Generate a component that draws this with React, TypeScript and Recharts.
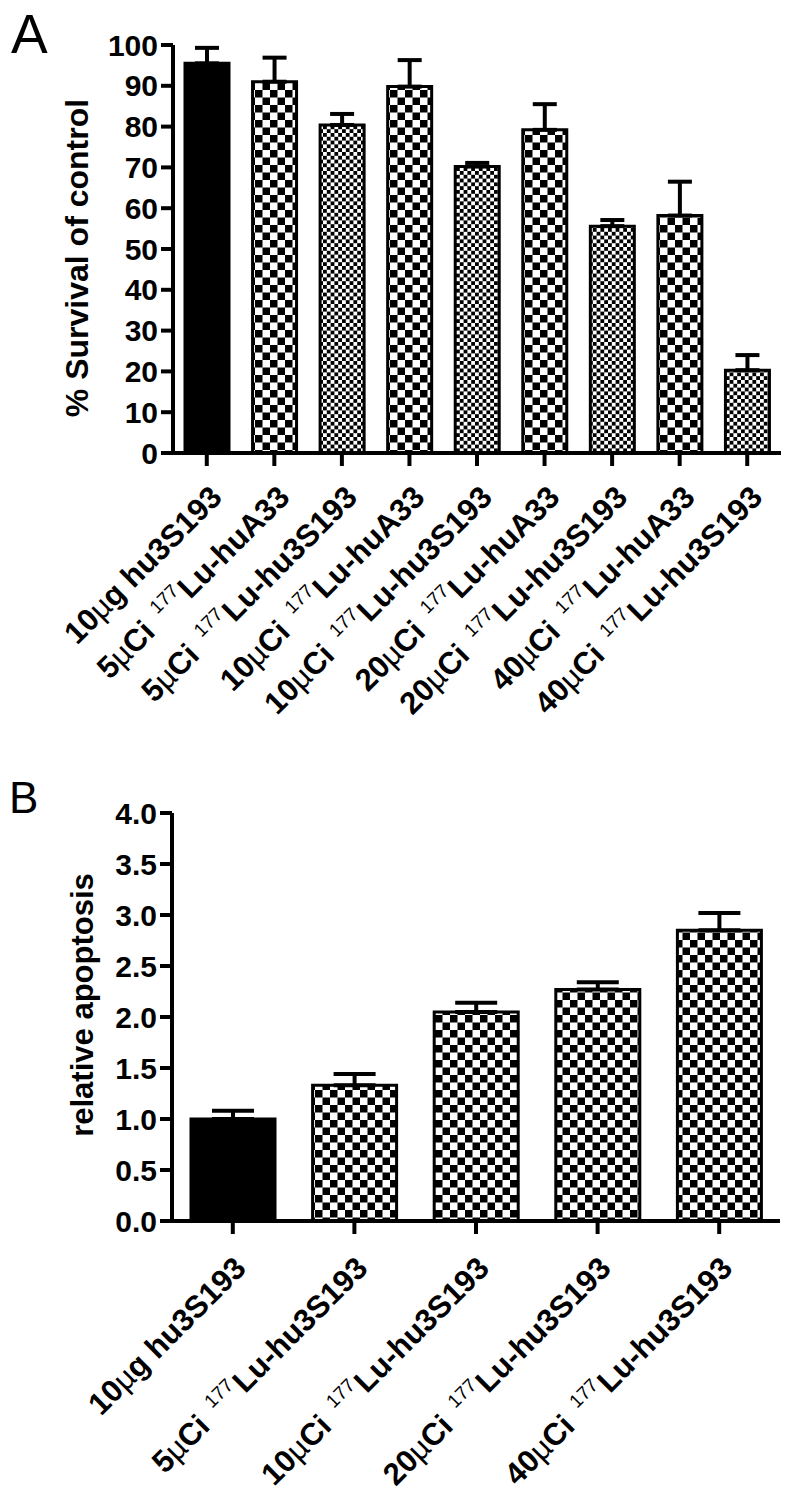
import { BarChart, Bar, XAxis, YAxis, ErrorBar, Cell } from 'recharts';

const FONT = '"Liberation Sans", Arial, sans-serif';

// Panel A: survival (% of control), mean + SEM
const categoriesA = [
  '10µg hu3S193',
  '5µCi 177Lu-huA33',
  '5µCi 177Lu-hu3S193',
  '10µCi 177Lu-huA33',
  '10µCi 177Lu-hu3S193',
  '20µCi 177Lu-huA33',
  '20µCi 177Lu-hu3S193',
  '40µCi 177Lu-huA33',
  '40µCi 177Lu-hu3S193',
];
const survivalMean = [95.5, 91.0, 80.4, 89.8, 70.2, 79.2, 55.6, 58.2, 20.3];
const survivalSem = [3.8, 5.9, 2.7, 6.5, 0.9, 6.3, 1.5, 8.3, 3.7];
const ticksA = [0, 10, 20, 30, 40, 50, 60, 70, 80, 90, 100];

// Panel B: relative apoptosis, mean + SEM
const categoriesB = [
  '10µg hu3S193',
  '5µCi 177Lu-hu3S193',
  '10µCi 177Lu-hu3S193',
  '20µCi 177Lu-hu3S193',
  '40µCi 177Lu-hu3S193',
];
const apoptosisMean = [1.0, 1.33, 2.05, 2.27, 2.85];
const apoptosisSem = [0.08, 0.11, 0.09, 0.07, 0.17];
const ticksB = [0, 0.5, 1, 1.5, 2, 2.5, 3, 3.5, 4];

// fills: solid control, coarse check for huA33, fine check for hu3S193
const fillsA = ['#000', 'url(#chkA-coarse)', 'url(#chkA-fine)', 'url(#chkA-coarse)', 'url(#chkA-fine)',
  'url(#chkA-coarse)', 'url(#chkA-fine)', 'url(#chkA-coarse)', 'url(#chkA-fine)'];
const fillsB = ['#000', 'url(#chkB)', 'url(#chkB)', 'url(#chkB)', 'url(#chkB)'];

const dataA = categoriesA.map((name, i) => ({ name, mean: survivalMean[i], err: [0, survivalSem[i]] }));
const dataB = categoriesB.map((name, i) => ({ name, mean: apoptosisMean[i], err: [0, apoptosisSem[i]] }));

const axisLine = { stroke: '#000', strokeWidth: 4 };
const numTick = { fill: '#000', fontSize: 30, fontWeight: 'bold', fontFamily: FONT };

function Checker({ id, size }: { id: string; size: number }) {
  return (
    <pattern id={id} width={size * 2} height={size * 2} patternUnits="userSpaceOnUse">
      <rect width={size * 2} height={size * 2} fill="#fff" />
      <rect width={size} height={size} fill="#000" />
      <rect x={size} y={size} width={size} height={size} fill="#000" />
    </pattern>
  );
}

function SlantTick(props: any) {
  const { x, y, payload, fontSize, supSize, dx, dy } = props;
  const m = /^(\S+) (177)?(.*)$/.exec(String(payload.value));
  const amount = m ? m[1] : String(payload.value);
  const iso = m ? m[2] : undefined;
  const rest = m ? m[3] : '';
  const [pre, post] = amount.split('µ');
  const lift = fontSize * 0.42;
  return (
    <g transform={`translate(${x + dx},${y + dy}) rotate(-45)`}>
      <text textAnchor="end" fontFamily={FONT} fontWeight="bold" fontSize={fontSize} fill="#000">
        <tspan>{pre}</tspan>
        <tspan fontWeight="normal">µ</tspan>
        <tspan>{post}</tspan>
        {iso ? (
          <>
            <tspan fontWeight="normal" fontSize={supSize} dx={fontSize * 0.45} dy={-lift}>{iso}</tspan>
            <tspan dx={2} dy={lift}>{rest}</tspan>
          </>
        ) : (
          <tspan dx={fontSize * 0.28}>{rest}</tspan>
        )}
      </text>
    </g>
  );
}

export default function App() {
  return (
    <div style={{ position: 'absolute', left: 0, top: 0, width: 800, height: 1500, background: '#fff' }}>
      <div style={{ position: 'absolute', left: 0, top: 0 }}>
        <BarChart width={800} height={760} data={dataA} margin={{ top: 45, right: 19, bottom: 0, left: 0 }}>
          <defs>
            <Checker id="chkA-coarse" size={7.5} />
            <Checker id="chkA-fine" size={3.8} />
          </defs>
          <XAxis
            dataKey="name"
            height={307}
            interval={0}
            axisLine={axisLine}
            tickLine={axisLine}
            tickSize={13}
            tickMargin={1}
            tick={(p: any) => <SlantTick {...p} fontSize={31} supSize={19} dx={17} dy={32} />}
          />
          <YAxis
            width={173}
            domain={[0, 100]}
            ticks={ticksA}
            interval={0}
            axisLine={axisLine}
            tickLine={axisLine}
            tickSize={12}
            tickMargin={3}
            tick={numTick}
          />
          <Bar dataKey="mean" barSize={44} stroke="#000" strokeWidth={3} isAnimationActive={false}>
            {dataA.map((d, i) => (
              <Cell key={d.name} fill={fillsA[i]} />
            ))}
            <ErrorBar dataKey="err" direction="y" width={12} stroke="#000" strokeWidth={4} isAnimationActive={false} />
          </Bar>
        </BarChart>
      </div>

      <div style={{ position: 'absolute', left: 0, top: 760 }}>
        <BarChart width={800} height={740} data={dataB} margin={{ top: 53, right: 20, bottom: 0, left: 0 }}>
          <defs>
            <Checker id="chkB" size={7.5} />
          </defs>
          <XAxis
            dataKey="name"
            height={279}
            interval={0}
            axisLine={axisLine}
            tickLine={axisLine}
            tickSize={13}
            tickMargin={1}
            tick={(p: any) => <SlantTick {...p} fontSize={31} supSize={19} dx={15} dy={35} />}
          />
          <YAxis
            width={172}
            domain={[0, 4]}
            ticks={ticksB}
            interval={0}
            axisLine={axisLine}
            tickLine={axisLine}
            tickSize={12}
            tickMargin={3}
            tick={numTick}
            tickFormatter={(v: number) => v.toFixed(1)}
          />
          <Bar dataKey="mean" barSize={84} stroke="#000" strokeWidth={3} isAnimationActive={false}>
            {dataB.map((d, i) => (
              <Cell key={d.name} fill={fillsB[i]} />
            ))}
            <ErrorBar dataKey="err" direction="y" width={21} stroke="#000" strokeWidth={4} isAnimationActive={false} />
          </Bar>
        </BarChart>
      </div>

      <svg width={800} height={1500} style={{ position: 'absolute', left: 0, top: 0, pointerEvents: 'none' }}>
        <text x={11} y={53} fontFamily={FONT} fontSize={55} fill="#000">A</text>
        <text
          transform="translate(88,258) rotate(-90)"
          textAnchor="middle"
          fontFamily={FONT}
          fontWeight="bold"
          fontSize={32}
          fill="#000"
        >
          % Survival of control
        </text>
        <text x={9} y={813} fontFamily={FONT} fontSize={44} fill="#000">B</text>
        <text
          transform="translate(93,1005) rotate(-90)"
          textAnchor="middle"
          fontFamily={FONT}
          fontWeight="bold"
          fontSize={31}
          fill="#000"
        >
          relative apoptosis
        </text>
      </svg>
    </div>
  );
}
